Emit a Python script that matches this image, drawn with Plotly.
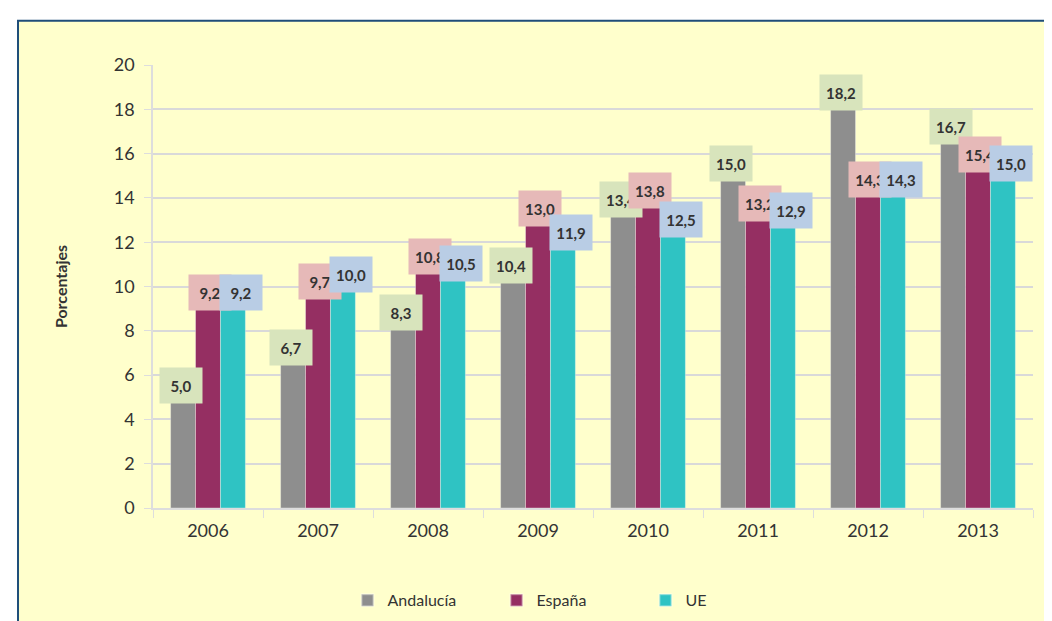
import plotly.graph_objects as go

years = ["2006", "2007", "2008", "2009", "2010", "2011", "2012", "2013"]
andalucia = [5.0, 6.7, 8.3, 10.4, 13.4, 15.0, 18.2, 16.7]
espana = [9.2, 9.7, 10.8, 13.0, 13.8, 13.2, 14.3, 15.4]
ue = [9.2, 10.0, 10.5, 11.9, 12.5, 12.9, 14.3, 15.0]
y_ticks = [0, 2, 4, 6, 8, 10, 12, 14, 16, 18, 20]

series = [
    ("Andalucía", andalucia, "#8E8E8E", "#D8E4BC", -27),
    ("España", espana, "#952F62", "#E6B9B8", 2),
    ("UE", ue, "#2FC3C3", "#B9CDE5", 33),
]

def fmt(v):
    return f"{v:.1f}".replace(".", ",")

fig = go.Figure()
for name, vals, col, _, _ in series:
    fig.add_trace(go.Bar(
        x=years, y=vals, name=name,
        marker=dict(color=col, line=dict(color="rgba(255,255,255,0.35)", width=1)),
        hoverinfo="skip",
    ))

annotations = []
for name, vals, col, lblbg, dx in series:
    for i, v in enumerate(vals):
        annotations.append(dict(
            x=i, y=v, xref="x", yref="y", text="<b>" + fmt(v) + "</b>",
            showarrow=False, xshift=dx, yshift=12,
            bgcolor=lblbg, borderpad=6, width=30, height=23,
            font=dict(family="Lato, Open Sans, sans-serif", size=15, color="#333333"),
        ))

fig.update_layout(
    width=1052, height=621,
    paper_bgcolor="white", plot_bgcolor="rgba(0,0,0,0)",
    margin=dict(l=145, r=27, t=57, b=114),
    barmode="group", bargap=0.32, bargroupgap=0,
    font=dict(family="Lato, Open Sans, sans-serif", color="#333333"),
    showlegend=True,
    legend=dict(
        orientation="h", x=0.475, xanchor="center", y=-0.17, yanchor="top",
        font=dict(size=16, color="#333333"), bgcolor="rgba(0,0,0,0)",
        entrywidth=104, entrywidthmode="pixels", itemsizing="constant",
    ),
    annotations=annotations,
    shapes=[dict(
        type="rect", xref="paper", yref="paper",
        x0=-0.1534, x1=1.06, y0=-0.3, y1=1.1,
        fillcolor="#FFFFCC", line=dict(color="#1F4E79", width=2), layer="below",
    )],
)
fig.update_xaxes(
    type="category", range=[-0.5, 7.5],
    tickfont=dict(size=18, color="#333333"), showgrid=False,
    showline=True, linecolor="#DDDDDD", linewidth=1.5,
    ticks="outside", tickson="boundaries", ticklen=8, tickcolor="#DDDDDD",
    ticklabelstandoff=6,
)
fig.update_yaxes(
    range=[0, 20], tickvals=y_ticks, tickfont=dict(size=18, color="#333333"),
    showgrid=True, gridcolor="#D9D9D9", gridwidth=1.5,
    showline=True, linecolor="#DDDDDD", linewidth=1.5,
    ticks="outside", ticklen=7, tickcolor="#DDDDDD", zeroline=False,
    ticklabelstandoff=6,
    title=dict(text="<b>Porcentajes</b>", font=dict(size=16, color="#333333"), standoff=42),
)

fig.write_html("out.html")
